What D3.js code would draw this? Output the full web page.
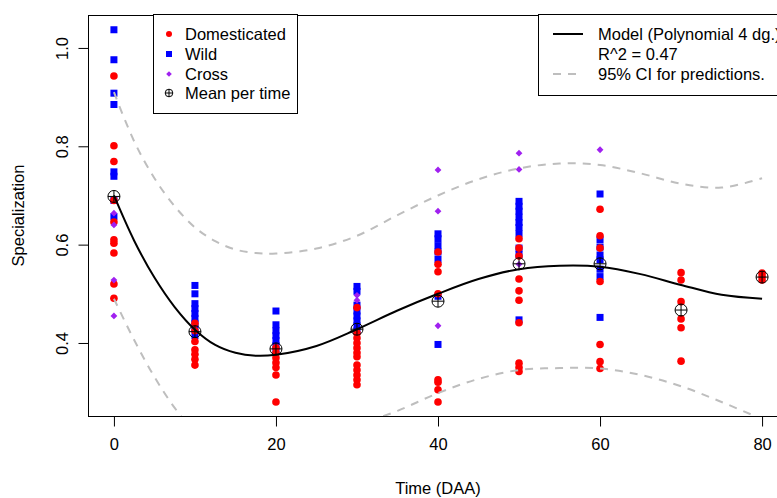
<!DOCTYPE html>
<html>
<head>
<meta charset="utf-8">
<script src="https://cdn.jsdelivr.net/npm/d3@7"></script>
<style>
  html, body { margin: 0; padding: 0; background: #fff; }
  svg { display: block; font-family: "Liberation Sans", Arial, sans-serif; }
</style>
</head>
<body>
<div id="chart"></div>
<script>
// Observations per group, [time, specialization]
const domesticated = [
  [0, 0.943], [0, 0.801], [0, 0.769], [0, 0.690], [0, 0.646], [0, 0.610], [0, 0.603], [0, 0.583], [0, 0.520], [0, 0.491],
  [10, 0.440], [10, 0.425], [10, 0.403], [10, 0.386], [10, 0.377], [10, 0.367], [10, 0.355],
  [20, 0.390], [20, 0.380], [20, 0.370], [20, 0.360], [20, 0.350], [20, 0.335], [20, 0.280],
  [30, 0.472], [30, 0.420], [30, 0.410], [30, 0.400], [30, 0.390], [30, 0.380], [30, 0.372], [30, 0.355], [30, 0.345], [30, 0.335], [30, 0.325], [30, 0.315],
  [40, 0.585], [40, 0.560], [40, 0.545], [40, 0.500], [40, 0.325], [40, 0.320], [40, 0.305], [40, 0.280],
  [50, 0.612], [50, 0.593], [50, 0.577], [50, 0.530], [50, 0.506], [50, 0.487], [50, 0.441], [50, 0.359], [50, 0.350], [50, 0.342],
  [60, 0.672], [60, 0.618], [60, 0.593], [60, 0.525], [60, 0.397], [60, 0.362], [60, 0.348],
  [70, 0.543], [70, 0.528], [70, 0.484], [70, 0.449], [70, 0.431], [70, 0.363],
  [80, 0.542], [80, 0.535], [80, 0.528]
];
const wild = [
  [0, 1.037], [0, 0.976], [0, 0.908], [0, 0.885], [0, 0.748], [0, 0.739], [0, 0.690], [0, 0.657],
  [10, 0.517], [10, 0.500], [10, 0.480], [10, 0.470], [10, 0.460], [10, 0.450], [10, 0.440], [10, 0.430], [10, 0.415],
  [20, 0.465], [20, 0.437], [20, 0.425], [20, 0.415], [20, 0.405], [20, 0.395], [20, 0.385],
  [30, 0.515], [30, 0.505], [30, 0.477], [30, 0.465], [30, 0.455], [30, 0.445], [30, 0.435], [30, 0.425],
  [40, 0.622], [40, 0.612], [40, 0.598], [40, 0.585], [40, 0.570], [40, 0.495], [40, 0.397],
  [50, 0.688], [50, 0.678], [50, 0.668], [50, 0.656], [50, 0.645], [50, 0.635], [50, 0.622], [50, 0.593], [50, 0.580], [50, 0.447],
  [60, 0.703], [60, 0.610], [60, 0.595], [60, 0.579], [60, 0.569], [60, 0.550], [60, 0.535], [60, 0.452]
];
const cross = [
  [0, 0.664], [0, 0.640], [0, 0.528], [0, 0.455],
  [30, 0.497], [30, 0.487],
  [40, 0.752], [40, 0.668], [40, 0.435],
  [50, 0.786], [50, 0.753], [50, 0.560],
  [60, 0.793]
];
const meanPerTime = [
  [0, 0.698], [10, 0.423], [20, 0.388], [30, 0.428], [40, 0.485], [50, 0.561], [60, 0.561], [70, 0.467], [80, 0.534]
];

// Fitted model and 95% prediction band
const fitTime  = [0, 2.5, 5, 7.5, 10, 12.5, 15, 17.5, 20, 25, 30, 35, 40, 45, 50, 55, 60, 65, 70, 75, 80];
const fitValue = [0.700, 0.608, 0.533, 0.473, 0.427, 0.396, 0.380, 0.374, 0.376, 0.394, 0.428, 0.466, 0.500, 0.530, 0.550, 0.557, 0.555, 0.540, 0.518, 0.498, 0.490];
const ciUpper  = [0.910, 0.810, 0.735, 0.678, 0.635, 0.607, 0.590, 0.583, 0.582, 0.592, 0.618, 0.660, 0.700, 0.733, 0.755, 0.765, 0.762, 0.745, 0.724, 0.716, 0.735];
const ciLower  = [0.490, 0.406, 0.331, 0.268, 0.219, 0.185, 0.170, 0.165, 0.170, 0.196, 0.232, 0.262, 0.298, 0.327, 0.345, 0.349, 0.348, 0.335, 0.312, 0.280, 0.245];

const xTicks = [0, 20, 40, 60, 80];
const yTicks = [0.4, 0.6, 0.8, 1.0];

const W = 777, H = 498;
const FS = '16.5px';
const plot = { left: 88, right: 788, top: 15, bottom: 416 };

const svg = d3.select('#chart').append('svg')
  .attr('width', W).attr('height', H);

const x = d3.scaleLinear().domain([-3.2, 83.2]).range([plot.left, plot.right]);
const y = d3.scaleLinear().domain([0.2515, 1.067]).range([plot.bottom, plot.top]);

svg.append('clipPath').attr('id', 'clip')
  .append('rect')
  .attr('x', plot.left).attr('y', plot.top)
  .attr('width', plot.right - plot.left).attr('height', plot.bottom - plot.top);

// symbol helpers
function circle(g, cx, cy, r, color) {
  g.append('circle').attr('cx', cx).attr('cy', cy).attr('r', r).attr('fill', color);
}
function square(g, cx, cy, s, color) {
  g.append('rect').attr('x', cx - s / 2).attr('y', cy - s / 2).attr('width', s).attr('height', s).attr('fill', color);
}
function diamond(g, cx, cy, h, color) {
  g.append('path')
    .attr('d', `M${cx},${cy - h}L${cx + h},${cy}L${cx},${cy + h}L${cx - h},${cy}Z`)
    .attr('fill', color);
}
function meanMark(g, cx, cy, r) {
  g.append('circle').attr('cx', cx).attr('cy', cy).attr('r', r)
    .attr('fill', 'none').attr('stroke', '#000').attr('stroke-width', 1);
  g.append('path')
    .attr('d', `M${cx - r},${cy}H${cx + r}M${cx},${cy - r}V${cy + r}`)
    .attr('stroke', '#000').attr('stroke-width', 1);
}

// points
const pts = svg.append('g');
wild.forEach(d => square(pts, x(d[0]), y(d[1]), 7, '#0000FF'));
domesticated.forEach(d => circle(pts, x(d[0]), y(d[1]), 3.8, '#FF0000'));
cross.forEach(d => diamond(pts, x(d[0]), y(d[1]), 3.4, '#A020F0'));
meanPerTime.forEach(d => meanMark(pts, x(d[0]), y(d[1]), 6));

// model + band
const lines = svg.append('g').attr('clip-path', 'url(#clip)');
const line = d3.line().x(d => x(d[0])).y(d => y(d[1])).curve(d3.curveCatmullRom);
const zipped = arr => fitTime.map((t, i) => [t, arr[i]]);

lines.append('path').datum(zipped(ciUpper))
  .attr('d', line).attr('fill', 'none')
  .attr('stroke', '#BEBEBE').attr('stroke-width', 2).attr('stroke-dasharray', '8,7');
lines.append('path').datum(zipped(ciLower))
  .attr('d', line).attr('fill', 'none')
  .attr('stroke', '#BEBEBE').attr('stroke-width', 2).attr('stroke-dasharray', '8,7');
lines.append('path').datum(zipped(fitValue))
  .attr('d', line).attr('fill', 'none')
  .attr('stroke', '#000').attr('stroke-width', 2);

// frame
svg.append('rect')
  .attr('x', plot.left + 0.5).attr('y', plot.top + 0.5)
  .attr('width', plot.right - plot.left).attr('height', plot.bottom - plot.top)
  .attr('fill', 'none').attr('stroke', '#000').attr('stroke-width', 1);

// axes
const xAxis = svg.append('g')
  .attr('transform', `translate(0,${plot.bottom + 0.5})`)
  .call(d3.axisBottom(x).tickValues(xTicks).tickSize(10).tickPadding(10));
const yAxis = svg.append('g')
  .attr('transform', `translate(${plot.left + 0.5},0)`)
  .call(d3.axisLeft(y).tickValues(yTicks).tickSize(10).tickFormat(d3.format('.1f')));

[xAxis, yAxis].forEach(a => {
  a.select('.domain').remove();
  a.selectAll('line').attr('stroke', '#000');
  a.selectAll('text').attr('fill', '#000')
    .style('font-size', FS)
    .style('font-family', '"Liberation Sans", Arial, sans-serif');
});
xAxis.selectAll('text').attr('y', 22).attr('dy', '0.71em');
yAxis.selectAll('text')
  .attr('transform', 'rotate(-90)')
  .attr('x', 0).attr('y', -21).attr('dy', 0)
  .attr('text-anchor', 'middle');

// axis titles
svg.append('text')
  .attr('x', (plot.left + plot.right) / 2).attr('y', 494)
  .attr('text-anchor', 'middle').style('font-size', FS)
  .text('Time (DAA)');
svg.append('text')
  .attr('transform', `translate(24,${(plot.top + plot.bottom) / 2}) rotate(-90)`)
  .attr('text-anchor', 'middle').style('font-size', FS)
  .text('Specialization');

// left legend
const lg = svg.append('g');
lg.append('rect').attr('x', 153.5).attr('y', 14.5).attr('width', 144).attr('height', 99)
  .attr('fill', '#fff').attr('stroke', '#000');
const lgRows = [34, 54, 74, 93];
const lgLabels = ['Domesticated', 'Wild', 'Cross', 'Mean per time'];
circle(lg, 169, lgRows[0], 3, '#FF0000');
square(lg, 169, lgRows[1], 6, '#0000FF');
diamond(lg, 169, lgRows[2], 2.8, '#A020F0');
meanMark(lg, 169, lgRows[3], 3.8);
lgLabels.forEach((t, i) => {
  lg.append('text').attr('x', 185).attr('y', lgRows[i]).attr('dy', '0.36em')
    .style('font-size', FS).text(t);
});

// right legend
const rg = svg.append('g');
rg.append('rect').attr('x', 538.5).attr('y', 14.5).attr('width', 260).attr('height', 81)
  .attr('fill', '#fff').attr('stroke', '#000');
rg.append('line').attr('x1', 553).attr('x2', 583).attr('y1', 34).attr('y2', 34)
  .attr('stroke', '#000').attr('stroke-width', 2);
rg.append('line').attr('x1', 553).attr('x2', 583).attr('y1', 74).attr('y2', 74)
  .attr('stroke', '#BEBEBE').attr('stroke-width', 2).attr('stroke-dasharray', '8,7');
const rgLabels = ['Model (Polynomial 4 dg.)', 'R^2 = 0.47', '95% CI for predictions.'];
[34, 54, 74].forEach((r, i) => {
  rg.append('text').attr('x', 598).attr('y', r).attr('dy', '0.36em')
    .style('font-size', FS).text(rgLabels[i]);
});
</script>
</body>
</html>
